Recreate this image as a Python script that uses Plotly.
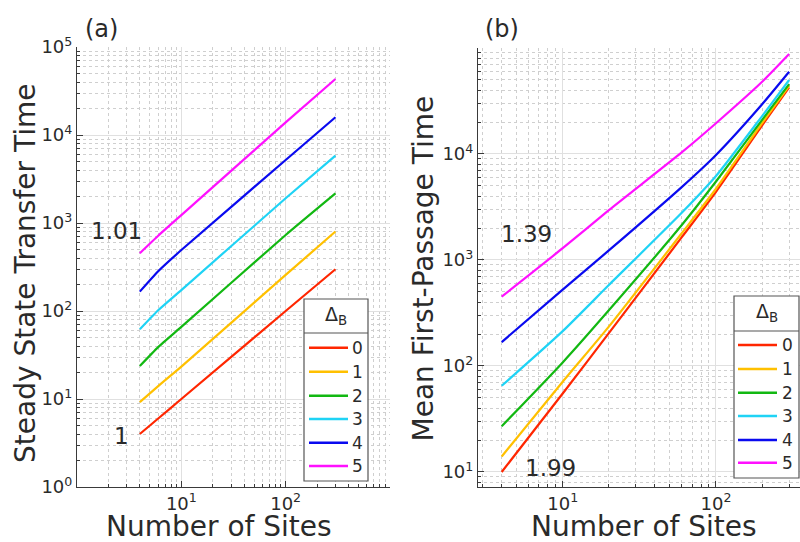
import plotly.graph_objects as go

# ---------------- data ----------------
delta_b = ["0", "1", "2", "3", "4", "5"]
colors = ["#ff2600", "#ffc000", "#12b812", "#1fd3f5", "#0a0aef", "#ff10ff"]

# (a) Steady State Transfer Time
n_steady = [4, 6, 10, 100, 300]
steady_0 = [4, 6, 10, 100, 298]
steady_1 = [9.2, 14, 23.3, 257, 800]
steady_2 = [23.7, 38.9, 66, 731, 2170]
steady_3 = [62, 102, 173, 1910, 5820]
steady_4 = [166, 283, 493, 5200, 15900]
steady_5 = [453, 716, 1230, 13900, 43300]

# (b) Mean First-Passage Time
n_mfpt = [4, 10, 20, 60, 100, 200, 300]
mfpt_0 = [10, 55, 204, 1650, 4400, 18600, 42600]
mfpt_1 = [14, 71, 235, 1800, 4700, 19600, 44000]
mfpt_2 = [27, 108, 335, 2150, 5500, 21000, 45700]
mfpt_3 = [65, 213, 580, 2800, 6200, 22800, 49900]
mfpt_4 = [168, 525, 1230, 4900, 9800, 29500, 59700]
mfpt_5 = [451, 1291, 2950, 10400, 19500, 48000, 87700]

# tick labels
xa_tickvals = [1, 10, 100, 1000]
xa_ticktext = ["", "10<sup>1</sup>", "10<sup>2</sup>", ""]
ya_tickvals = [1, 10, 100, 1000, 10000, 100000]
ya_ticktext = ["10<sup>0</sup>", "10<sup>1</sup>", "10<sup>2</sup>",
               "10<sup>3</sup>", "10<sup>4</sup>", "10<sup>5</sup>"]
xb_tickvals = [10, 100]
xb_ticktext = ["10<sup>1</sup>", "10<sup>2</sup>"]
yb_tickvals = [10, 100, 1000, 10000, 100000]
yb_ticktext = ["10<sup>1</sup>", "10<sup>2</sup>", "10<sup>3</sup>", "10<sup>4</sup>", ""]

slope_labels_a = ["1.01", "1"]
slope_labels_b = ["1.39", "1.99"]

# ---------------- figure ----------------
W, H = 800, 542
FONT = "DejaVu Sans"
TXT = "#2a2a2a"


def px(x):
    return x / W


def py(y):
    return 1 - y / H


steady = [steady_0, steady_1, steady_2, steady_3, steady_4, steady_5]
mfpt = [mfpt_0, mfpt_1, mfpt_2, mfpt_3, mfpt_4, mfpt_5]

fig = go.Figure()
for lab, col, ys in zip(delta_b, colors, steady):
    fig.add_trace(go.Scatter(x=n_steady, y=ys, mode="lines", name=lab,
                             line=dict(color=col, width=2.2, shape="spline", smoothing=0.5),
                             xaxis="x", yaxis="y", showlegend=False))
for lab, col, ys in zip(delta_b, colors, mfpt):
    fig.add_trace(go.Scatter(x=n_mfpt, y=ys, mode="lines", name=lab,
                             line=dict(color=col, width=2.2, shape="spline", smoothing=0.6),
                             xaxis="x2", yaxis="y2", showlegend=False))


def minor_vals(lo_exp, hi_exp, start=2):
    vals = []
    for e in range(lo_exp, hi_exp + 1):
        for m in range(start if e == lo_exp else 2, 10):
            vals.append(m * 10 ** e)
    return vals


def axis(rng, domain, tickvals, ticktext, minor_tickvals, anchor):
    return dict(
        type="log", range=rng, domain=domain, anchor=anchor, automargin=False,
        tickmode="array", tickvals=tickvals, ticktext=ticktext,
        ticks="inside", ticklen=6, tickwidth=1, tickcolor="#3a3a3a",
        showline=True, linecolor="#3a3a3a", linewidth=1.2,
        showgrid=True, gridcolor="#e0e0e0", gridwidth=1,
        zeroline=False,
        tickfont=dict(family=FONT, size=18, color=TXT),
        minor=dict(tickmode="array", tickvals=minor_tickvals, ticks="inside",
                   ticklen=3, tickcolor="#3a3a3a", showgrid=True,
                   gridcolor="#cfcfcf", griddash="dot", gridwidth=1),
    )


fig.update_layout(
    width=W, height=H,
    margin=dict(l=0, r=0, t=0, b=0, autoexpand=False),
    paper_bgcolor="white", plot_bgcolor="white",
    showlegend=False,
    xaxis=axis([0, 3], [px(77), px(390)], xa_tickvals, xa_ticktext,
               minor_vals(0, 2), "y"),
    yaxis=axis([0, 5], [py(487), py(47)], ya_tickvals, ya_ticktext,
               minor_vals(0, 4), "x"),
    xaxis2=axis([0.4475, 2.548], [px(478), 1.0], xb_tickvals, xb_ticktext,
                minor_vals(0, 2, start=3), "y2"),
    yaxis2=axis([0.858, 5.0], [py(487), py(48)], yb_tickvals, yb_ticktext,
                [8, 9] + minor_vals(1, 4), "x2"),
)

ann = []


def text(x, y, s, size, angle=0, xanchor="center"):
    ann.append(dict(x=px(x), y=py(y), xref="paper", yref="paper", text=s,
                    showarrow=False, textangle=angle, xanchor=xanchor, yanchor="middle",
                    font=dict(family=FONT, size=size, color=TXT)))


# axis titles
text(25, 274, "Steady State Transfer Time", 28, angle=-90)
text(218.5, 526, "Number of Sites", 28)
text(423, 268.5, "Mean First-Passage Time", 28, angle=-90)
text(643.5, 526, "Number of Sites", 28)
# panel labels
text(101.5, 29, "(a)", 24)
text(502, 29, "(b)", 24)
# slope labels
text(116.7, 231, slope_labels_a[0], 23)
text(121, 436, slope_labels_a[1], 23)
text(526.7, 234, slope_labels_b[0], 23)
text(550.3, 468, slope_labels_b[1], 23)

shapes = []


def legend(x0, x1, y0, y1, ysep, ys, lx0, lx1, tx, title_y):
    shapes.append(dict(type="rect", xref="paper", yref="paper",
                       x0=px(x0), x1=px(x1), y0=py(y1), y1=py(y0),
                       fillcolor="white", line=dict(color="#555555", width=1.2),
                       layer="above"))
    shapes.append(dict(type="line", xref="paper", yref="paper",
                       x0=px(x0), x1=px(x1), y0=py(ysep), y1=py(ysep),
                       line=dict(color="#555555", width=1.2), layer="above"))
    text((x0 + x1) / 2, title_y, "Δ<sub>B</sub>", 19)
    for lab, col, yy in zip(delta_b, colors, ys):
        shapes.append(dict(type="line", xref="paper", yref="paper",
                           x0=px(lx0), x1=px(lx1), y0=py(yy), y1=py(yy),
                           line=dict(color=col, width=2.6), layer="above"))
        text(tx, yy, lab, 17)


legend(304, 368, 299, 481, 333, [347.7, 371.7, 395.7, 419, 442.7, 466], 309, 348, 357, 315)
legend(734, 799, 296, 478, 331, [345, 369, 392.7, 416, 440, 462.7], 738, 777, 787.5, 312)

fig.update_layout(annotations=ann, shapes=shapes)
fig.write_html("out.html",
               config={"displayModeBar": False},
               post_script="document.body.style.margin='0';document.body.style.padding='0';"
                           "document.body.style.overflow='hidden';")
